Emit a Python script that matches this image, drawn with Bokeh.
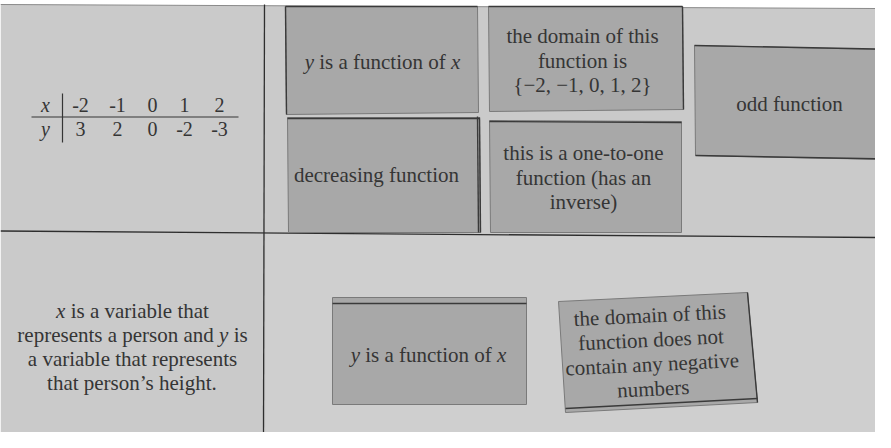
import math
from bokeh.plotting import figure
from bokeh.models import Range1d, ColumnDataSource
from bokeh.core.properties import value
from bokeh.embed import file_html
from bokeh.resources import INLINE

# ---------------- data (text content) ----------------
table_x_label = "$x$"
table_y_label = "$y$"
table_x_vals = ["-2", "-1", "0", "1", "2"]
table_y_vals = ["3", "2", "0", "-2", "-3"]

top_card_labels = [
    "$y$ is a function of $x$",
    "the domain of this\nfunction is\n{\u22122, \u22121, 0, 1, 2}",
    "decreasing function",
    "this is a one-to-one\nfunction (has an\ninverse)",
    "odd function",
]
scenario_text = ("$x$ is a variable that\nrepresents a person and $y$ is\n"
                 "a variable that represents\nthat person\u2019s height.")
bottom_card_labels = [
    "$y$ is a function of $x$",
    "the domain of this\nfunction does not\ncontain any negative\nnumbers",
]

# ---------------- layout (page geometry, pixels) ----------------
W, H = 875, 432
X0, Y0 = 8, 8
PAPER = "#cacaca"
CARD = "#a8a8a8"
INK = "#353535"
FONT = "Liberation Serif"
FS = 21
LINE_H = 24.5

# card outlines: (TL, TR, BR, BL)
card_shapes = [
    [(293, 14), (485, 14), (486, 120), (294, 122)],
    [(496, 14), (690, 14), (691, 117), (497, 119)],
    [(295, 125), (487, 125), (488, 240), (296, 240)],
    [(497, 128), (689, 129), (689, 240), (498, 240)],
    [(702, 53), (891, 57), (891, 167), (703, 163)],
    [(340, 305), (534, 305), (534, 412), (340, 412)],
    [(566, 309), (755, 300), (765, 410), (573, 420)],
]
# text block centres and rotation per card
card_text_pos = [(390, 69), (590, 68), (384, 182), (591, 185), (797, 111),
                 (436, 362), (659, 359.5)]
card_angles = [0, 0, 0, 0, 0, 0, 0.048]
scenario_pos = (140, 354)
table_cols = [88, 125, 160, 192, 227]
table_label_x = 53
table_rows = [112, 136]

# ---------------- font metrics (Times-compatible, per 1000 em) ----------------
ROMAN = dict(a=444, b=500, c=444, d=500, e=444, f=333, g=500, h=500, i=278, j=278,
             k=500, l=278, m=778, n=500, o=500, p=500, q=500, r=333, s=389, t=278,
             u=500, v=500, w=722, x=500, y=500, z=444)
ROMAN.update({" ": 250, ",": 250, ".": 250, "(": 333, ")": 333, "-": 333,
              "\u2019": 333, "{": 480, "}": 480, "\u2212": 564})
for d in "0123456789":
    ROMAN[d] = 500
ITALIC = dict(x=444, y=444)


def seg_width(s, italic, size):
    tbl = ITALIC if italic else ROMAN
    return sum(tbl.get(ch, ROMAN.get(ch, 500)) for ch in s) * size / 1000.0


rom = dict(x=[], y=[], text=[], angle=[], size=[])
ita = dict(x=[], y=[], text=[], angle=[], size=[])


def place(label, cx, cy, angle=0.0, size=FS, lh=LINE_H):
    lines = label.split("\n")
    n = len(lines)
    ca, sa = math.cos(angle), math.sin(angle)
    for k, line in enumerate(lines):
        dy = (k - (n - 1) / 2.0) * lh
        parts = line.split("$")
        segs = [(s, i % 2 == 1) for i, s in enumerate(parts) if s]
        total = sum(seg_width(s, it, size) for s, it in segs)
        dx = -total / 2.0
        for s, it in segs:
            lead = len(s) - len(s.lstrip(" "))
            core = s.strip(" ")
            dx += lead * ROMAN[" "] * size / 1000.0
            if core:
                X = cx + dx * ca + dy * sa
                Y = cy - dx * sa + dy * ca
                tgt = ita if it else rom
                tgt["x"].append(X)
                tgt["y"].append(Y)
                tgt["text"].append(core)
                tgt["angle"].append(angle)
                tgt["size"].append(f"{size}px")
            dx += seg_width(s.lstrip(" "), it, size)


# ---------------- figure ----------------
p = figure(width=W, height=H, x_range=Range1d(X0, X0 + W), y_range=Range1d(Y0 + H, Y0),
           output_backend="svg", toolbar_location=None, min_border=0,
           x_axis_type=None, y_axis_type=None)
p.background_fill_color = "white"
p.border_fill_color = "white"
p.outline_line_color = None
p.grid.visible = False

# paper
p.patch([8, 883, 883, 8], [12, 16, 440, 440], fill_color=PAPER, line_color=None)
p.line([8, 883], [12, 16], line_color="#8a8a8a", line_width=1)
# slightly lighter lower-right region
p.patch([273, 883, 883, 273], [241, 245, 440, 440], fill_color="#cfcfcf", line_color=None)

# dividers
p.line([272, 271], [12, 440], line_color="#2e2e2e", line_width=1.3)
p.line([8, 883], [238.5, 245], line_color="#2e2e2e", line_width=1.3)

# cards
for shp in card_shapes:
    xs = [c[0] for c in shp]
    ys = [c[1] for c in shp]
    p.patch(xs, ys, fill_color=CARD, line_color="#7a7a7a", line_width=1)

# darker edges (paper-strip shadows)
edges = [
    ((293, 14), (485, 14)), ((293, 14), (294, 122)),
    ((496, 14), (690, 14)), ((690, 14), (691, 117)),
    ((295, 126), (487, 126)), ((487, 125), (488, 240)), ((485, 124), (486, 240)),
    ((497, 129), (689, 130)),
    ((702, 53), (883, 56.5)), ((703, 163), (883, 166.3)),
    ((340, 311), (534, 311)),
    ((755, 300), (765, 410)), ((573, 416), (765, 406)),
]
for (a, b) in edges:
    p.line([a[0], b[0]], [a[1], b[1]], line_color="#3a3a3a", line_width=1.4)

# table
p.line([70, 70], [101, 150], line_color=INK, line_width=1.2)
p.line([39, 246], [124.5, 124.5], line_color=INK, line_width=1.2)
place(table_x_label, table_label_x, table_rows[0], size=20)
place(table_y_label, table_label_x, table_rows[1], size=20)
for cx, v in zip(table_cols, table_x_vals):
    place(v, cx, table_rows[0], size=20)
for cx, v in zip(table_cols, table_y_vals):
    place(v, cx, table_rows[1], size=20)

# card texts
all_labels = top_card_labels + bottom_card_labels
for lab, (cx, cy), ang in zip(all_labels, card_text_pos, card_angles):
    place(lab, cx, cy, angle=ang)

place(scenario_text, scenario_pos[0], scenario_pos[1], lh=24)

for src_d, style in ((rom, "normal"), (ita, "italic")):
    src = ColumnDataSource(src_d)
    p.text(x="x", y="y", text="text", angle="angle", source=src,
           text_font=value(FONT), text_font_size="size", text_font_style=style,
           text_color=INK, text_align="left", text_baseline="middle")

open("out.html", "w").write(file_html(p, INLINE))
